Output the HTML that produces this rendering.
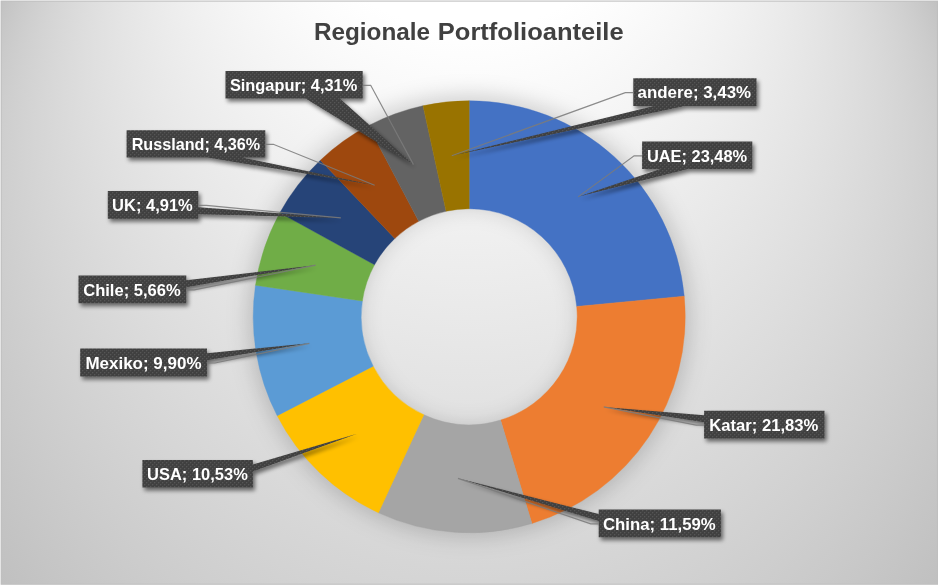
<!DOCTYPE html>
<html><head><meta charset="utf-8"><title>Regionale Portfolioanteile</title>
<style>html,body{margin:0;padding:0;background:#fff;}body{width:940px;height:587px;overflow:hidden;font-family:"Liberation Sans",sans-serif;}svg{display:block}text{font-family:"Liberation Sans",sans-serif;font-weight:bold;}</style></head><body>
<svg width="940" height="587" viewBox="0 0 940 587">
<defs>
<radialGradient id="bg" gradientUnits="userSpaceOnUse" fx="469.3" fy="319.82" fr="589.55" cx="469.3" cy="-460" r="0.01" gradientTransform="translate(469.3 0) scale(0.96424 1) translate(-469.3 0)"><stop offset="0" stop-color="#bcbcbc"/><stop offset="0.64287" stop-color="#fff"/><stop offset="1" stop-color="#fff"/></radialGradient>
<pattern id="dots" width="4" height="4" patternUnits="userSpaceOnUse"><rect width="4" height="4" fill="#3f3f3f"/><rect x="0" y="0" width="1.3" height="1.3" fill="#575757"/><rect x="2" y="2" width="1.3" height="1.3" fill="#575757"/></pattern>
<filter id="dsh" x="-20%" y="-20%" width="140%" height="140%"><feGaussianBlur stdDeviation="11"/></filter>
<filter id="sh2" x="-30%" y="-60%" width="160%" height="260%"><feGaussianBlur in="SourceAlpha" stdDeviation="1.9"/><feOffset dx="2" dy="2.5"/><feComponentTransfer><feFuncA type="linear" slope="0.55"/></feComponentTransfer><feMerge><feMergeNode/><feMergeNode in="SourceGraphic"/></feMerge></filter>
<clipPath id="cc"><rect x="1.7" y="1.65" width="935.2" height="582.05"/></clipPath>
</defs>
<rect width="940" height="587" fill="#fff"/>
<rect x="0.6" y="0.55" width="937.4" height="584.25" fill="#bfbfbf"/>
<rect x="1.7" y="1.65" width="935.2" height="582.05" fill="url(#bg)"/>
<g clip-path="url(#cc)">
<path d="M469.2 96.43A220.32 220.32 0 1 1 469.2 537.07A220.32 220.32 0 1 1 469.2 96.43ZM469.2 206.05A110.7 110.7 0 1 0 469.2 427.45A110.7 110.7 0 1 0 469.2 206.05Z" fill="#000" fill-opacity="0.18" fill-rule="evenodd" filter="url(#dsh)"/>
<path d="M469.2 100.75A216 216 0 0 1 684.22 296.15L576.71 306.45A108 108 0 0 0 469.2 208.75Z" fill="#4472C4" stroke="#4472C4" stroke-width="0.4"/>
<path d="M684.22 296.15A216 216 0 0 1 531.93 523.44L500.57 420.09A108 108 0 0 0 576.71 306.45Z" fill="#ED7D31" stroke="#ED7D31" stroke-width="0.4"/>
<path d="M531.93 523.44A216 216 0 0 1 378.46 512.77L423.83 414.76A108 108 0 0 0 500.57 420.09Z" fill="#A5A5A5" stroke="#A5A5A5" stroke-width="0.4"/>
<path d="M378.46 512.77A216 216 0 0 1 277.18 415.66L373.19 366.2A108 108 0 0 0 423.83 414.76Z" fill="#FFC000" stroke="#FFC000" stroke-width="0.4"/>
<path d="M277.18 415.66A216 216 0 0 1 255.51 285.24L362.36 301A108 108 0 0 0 373.19 366.2Z" fill="#5B9BD5" stroke="#5B9BD5" stroke-width="0.4"/>
<path d="M255.51 285.24A216 216 0 0 1 279.85 212.81L374.53 264.78A108 108 0 0 0 362.36 301Z" fill="#70AD47" stroke="#70AD47" stroke-width="0.4"/>
<path d="M279.85 212.81A216 216 0 0 1 320.35 160.22L394.78 238.49A108 108 0 0 0 374.53 264.78Z" fill="#264478" stroke="#264478" stroke-width="0.4"/>
<path d="M320.35 160.22A216 216 0 0 1 368.25 125.79L418.72 221.27A108 108 0 0 0 394.78 238.49Z" fill="#9E480E" stroke="#9E480E" stroke-width="0.4"/>
<path d="M368.25 125.79A216 216 0 0 1 423.01 105.75L446.1 211.25A108 108 0 0 0 418.72 221.27Z" fill="#636363" stroke="#636363" stroke-width="0.4"/>
<path d="M423.01 105.75A216 216 0 0 1 469.2 100.75L469.2 208.75A108 108 0 0 0 446.1 211.25Z" fill="#997300" stroke="#997300" stroke-width="0.4"/>
<path d="M642.1 141.6L752.3 141.6L752.3 169.1L688.02 169.1L578.15 196.86L660.47 169.1L642.1 169.1Z" fill="url(#dots)" filter="url(#sh2)"/>
<path d="M704.1 410.7L824.5 410.7L824.5 438.6L704.1 438.6L704.1 422.32L603.78 406.92L704.1 415.35Z" fill="url(#dots)" filter="url(#sh2)"/>
<path d="M598.7 509.5L720.9 509.5L720.9 537.2L598.7 537.2L598.7 521.04L457.96 478.36L598.7 514.12Z" fill="url(#dots)" filter="url(#sh2)"/>
<path d="M142.4 460L252.9 460L252.9 464.6L357.09 433.69L252.9 471.5L252.9 487.6L142.4 487.6Z" fill="url(#dots)" filter="url(#sh2)"/>
<path d="M80.2 348.6L207 348.6L207 353.23L309.39 343.3L207 360.18L207 376.4L80.2 376.4Z" fill="url(#dots)" filter="url(#sh2)"/>
<path d="M78.5 275.6L186.3 275.6L186.3 280.22L315.64 265.14L186.3 287.14L186.3 303.3L78.5 303.3Z" fill="url(#dots)" filter="url(#sh2)"/>
<path d="M107.8 191.1L198.3 191.1L198.3 207.26L340.85 217.9L198.3 214.18L198.3 218.8L107.8 218.8Z" fill="url(#dots)" filter="url(#sh2)"/>
<path d="M126.6 130.2L265.3 130.2L265.3 157.4L242.18 157.4L374.64 185.21L207.51 157.4L126.6 157.4Z" fill="url(#dots)" filter="url(#sh2)"/>
<path d="M225.5 71L362.7 71L362.7 98.6L339.83 98.6L413.51 164.62L305.53 98.6L225.5 98.6Z" fill="url(#dots)" filter="url(#sh2)"/>
<path d="M633.3 78.3L756.5 78.3L756.5 105.9L684.63 105.9L451.78 155.69L653.83 105.9L633.3 105.9Z" fill="url(#dots)" filter="url(#sh2)"/>
<path d="M642.1 155.85L634.1 155.85L578.15 196.86" fill="none" stroke="#7b7b7b" stroke-opacity="0.87" stroke-width="1.2"/>
<path d="M704.1 425.15L696.1 425.15L603.78 406.92" fill="none" stroke="#7b7b7b" stroke-opacity="0.87" stroke-width="1.2"/>
<path d="M598.7 523.85L590.7 523.85L457.96 478.36" fill="none" stroke="#7b7b7b" stroke-opacity="0.87" stroke-width="1.2"/>
<path d="M207 363L215 363L309.39 343.3" fill="none" stroke="#7b7b7b" stroke-opacity="0.87" stroke-width="1.2"/>
<path d="M186.3 289.95L194.3 289.95L315.64 265.14" fill="none" stroke="#7b7b7b" stroke-opacity="0.87" stroke-width="1.2"/>
<path d="M198.3 205.45L206.3 205.45L340.85 217.9" fill="none" stroke="#7b7b7b" stroke-opacity="0.87" stroke-width="1.2"/>
<path d="M265.3 144.3L273.3 144.3L374.64 185.21" fill="none" stroke="#7b7b7b" stroke-opacity="0.87" stroke-width="1.2"/>
<path d="M362.7 85.3L370.7 85.3L413.51 164.62" fill="none" stroke="#7b7b7b" stroke-opacity="0.87" stroke-width="1.2"/>
<path d="M633.3 92.6L625.3 92.6L451.78 155.69" fill="none" stroke="#7b7b7b" stroke-opacity="0.87" stroke-width="1.2"/>
</g>
<g opacity="0.999">
<text x="646.9" y="161.65" font-size="16.6" fill="#fff" textLength="100.3" lengthAdjust="spacingAndGlyphs">UAE; 23,48%</text>
<text x="709.3" y="430.95" font-size="16.6" fill="#fff" textLength="109.1" lengthAdjust="spacingAndGlyphs">Katar; 21,83%</text>
<text x="603" y="529.65" font-size="16.6" fill="#fff" textLength="112.7" lengthAdjust="spacingAndGlyphs">China; 11,59%</text>
<text x="147.1" y="480.1" font-size="16.6" fill="#fff" textLength="100.7" lengthAdjust="spacingAndGlyphs">USA; 10,53%</text>
<text x="85.4" y="368.8" font-size="16.6" fill="#fff" textLength="116.1" lengthAdjust="spacingAndGlyphs">Mexiko; 9,90%</text>
<text x="83.2" y="295.75" font-size="16.6" fill="#fff" textLength="97.5" lengthAdjust="spacingAndGlyphs">Chile; 5,66%</text>
<text x="112.1" y="211.25" font-size="16.6" fill="#fff" textLength="80.7" lengthAdjust="spacingAndGlyphs">UK; 4,91%</text>
<text x="131.7" y="150.1" font-size="16.6" fill="#fff" textLength="128.4" lengthAdjust="spacingAndGlyphs">Russland; 4,36%</text>
<text x="229.9" y="91.1" font-size="16.6" fill="#fff" textLength="127.3" lengthAdjust="spacingAndGlyphs">Singapur; 4,31%</text>
<text x="637.6" y="98.4" font-size="16.6" fill="#fff" textLength="113.5" lengthAdjust="spacingAndGlyphs">andere; 3,43%</text>
<text x="313.9" y="39.8" font-size="23.8" fill="#404040" textLength="116.2" lengthAdjust="spacingAndGlyphs">Regionale</text>
<text x="437.8" y="39.8" font-size="23.8" fill="#404040" textLength="185.8" lengthAdjust="spacingAndGlyphs">Portfolioanteile</text>
</g>
</svg></body></html>
